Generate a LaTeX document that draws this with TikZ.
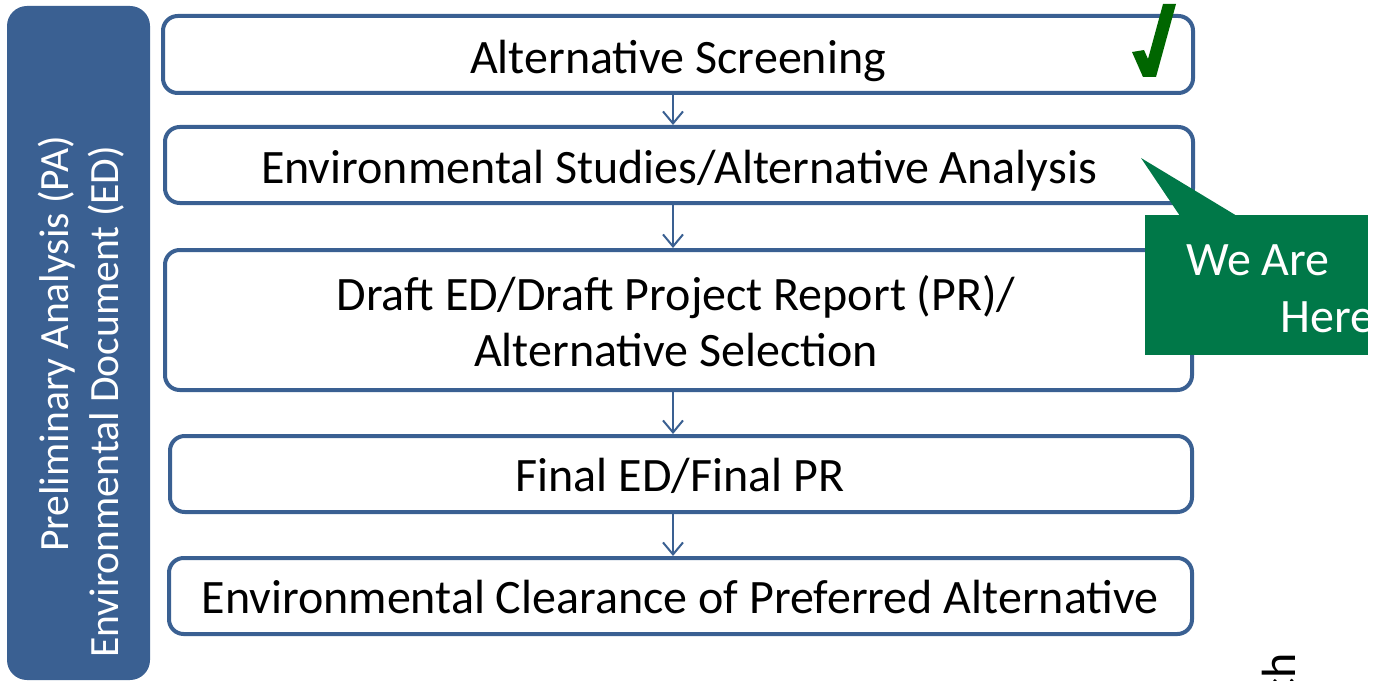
\documentclass[tikz,border=0pt]{standalone}
\usepackage{fontspec}
\setmainfont{Carlito}
\usetikzlibrary{arrows.meta}
\definecolor{bluefr}{RGB}{58,96,146}
\definecolor{panelc}{RGB}{58,96,146}
\definecolor{calloutc}{RGB}{0,120,72}
\definecolor{checkg}{RGB}{0,102,0}
\begin{document}
\begin{tikzpicture}[x=0.75pt,y=-0.75pt,
  stepbox/.style={draw=bluefr, line width=3pt, rounded corners=11pt, fill=white, inner sep=0pt},
  flow/.style={draw=bluefr, line width=1.5pt, -{Straight Barb[length=9pt,width=15pt]}},
  lbl/.style={font=\fontsize{36}{43}\selectfont, anchor=base, inner sep=0pt},
  wlbl/.style={lbl, text=white},
  plbl/.style={font=\fontsize{31.2}{37}\selectfont, text=white, inner sep=0pt, rotate=90, anchor=base west}
]
\useasboundingbox (0,0) rectangle (1380,681);
% left panel
\node[fill=panelc, rounded corners=15pt, minimum width=107.25pt, minimum height=505.5pt, inner sep=0pt] (panel) at (78.5,343) {};
\node[plbl] (p1) at (68,552) {Preliminary Analysis (PA)};
\node[plbl] (p2) at (118,658) {Environmental Document (ED)};
% step boxes
\node[stepbox, minimum width=772.5pt, minimum height=57.75pt] (b1) at (678,54.5) {};
\node[stepbox, minimum width=771pt, minimum height=57pt] (b2) at (679,165) {};
\node[stepbox, minimum width=770.25pt, minimum height=105pt] (b3) at (678.5,320) {};
\node[stepbox, minimum width=766.5pt, minimum height=57pt] (b4) at (681,474) {};
\node[stepbox, minimum width=767.25pt, minimum height=57pt] (b5) at (680.5,596) {};
\node[lbl] (t1) at (678,74) {Alternative Screening};
\node[lbl] (t2) at (679,183) {Environmental Studies/Alternative Analysis};
\node[lbl] (t3a) at (676,310) {Draft ED/Draft Project Report (PR)/};
\node[lbl] (t3b) at (676,366) {Alternative Selection};
\node[lbl] (t4) at (680,491) {Final ED/Final PR};
\node[lbl] (t5) at (680,613) {Environmental Clearance of Preferred Alternative};
% connectors
\coordinate (ax) at (673,0);
\draw[flow] (b1.south -| ax) -- (b2.north -| ax);
\draw[flow] (b2.south -| ax) -- (b3.north -| ax);
\draw[flow] (b3.south -| ax) -- (b4.north -| ax);
\draw[flow] (b4.south -| ax) -- (b5.north -| ax);
% check mark
\fill[checkg] (1132,52) -- (1144,50) -- (1148,59) -- (1163,4) -- (1176,4) -- (1156,77) -- (1143,77) -- cycle;
% callout
\node[fill=calloutc, minimum width=167.25pt, minimum height=105pt, inner sep=0pt] (call) at (1256.5,285) {};
\fill[calloutc] (1180,216) -- (1141,158) -- (1237,216) -- cycle;
\begin{scope}
\clip (1145,215) rectangle (1368,355);
\node[wlbl, anchor=base west] (we) at (1186,275) {We Are};
\node[wlbl, anchor=base west] (here) at (1280,332) {Here};
\end{scope}
% stray text
\node[lbl, rotate=90, anchor=base east] (stray) at (1295,653) {ch};
\end{tikzpicture}
\end{document}
